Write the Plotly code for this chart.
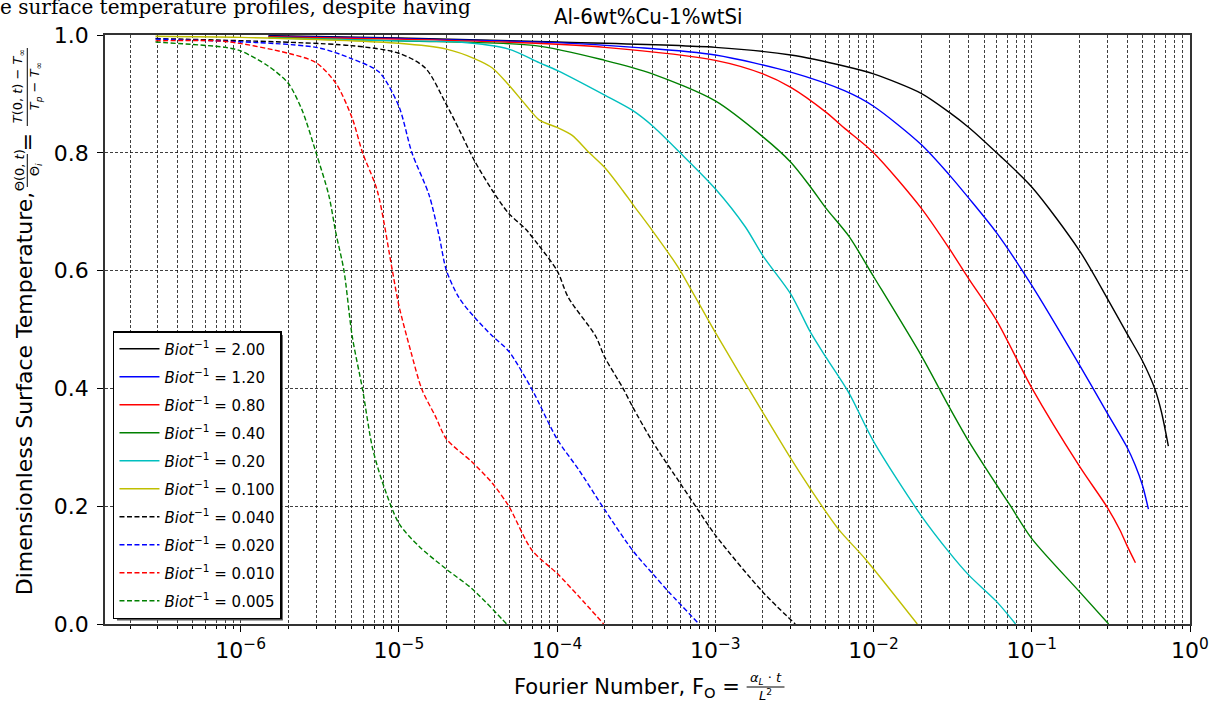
import plotly.graph_objects as go

# Fourier number / dimensionless surface temperature, one pair of lists per Biot^-1 case
fo_200 = [1.5e-6, 1e-5, 1e-4, 1e-3, 3e-3, 6.6e-3, 0.01, 0.02, 0.03, 0.04, 0.06, 0.1, 0.2, 0.3, 0.4, 0.5, 0.6, 0.66, 0.73]
th_200 = [0.999, 0.995, 0.988, 0.979, 0.966, 0.947, 0.934, 0.901, 0.869, 0.843, 0.800, 0.742, 0.634, 0.553, 0.493, 0.447, 0.399, 0.36, 0.302]

fo_120 = [1.5e-6, 1e-5, 1e-4, 3.1e-4, 1e-3, 3e-3, 6.6e-3, 0.01, 0.02, 0.03, 0.04, 0.06, 0.1, 0.2, 0.3, 0.4, 0.45, 0.5, 0.546]
th_120 = [0.998, 0.994, 0.987, 0.979, 0.966, 0.937, 0.905, 0.879, 0.814, 0.763, 0.723, 0.664, 0.575, 0.440, 0.358, 0.300, 0.270, 0.236, 0.195]

fo_080 = [1.5e-6, 1e-5, 7.3e-5, 2e-4, 1e-3, 2e-3, 3e-3, 5e-3, 6.6e-3, 0.01, 0.02, 0.03, 0.04, 0.06, 0.1, 0.2, 0.3, 0.36, 0.4, 0.452]
th_080 = [0.997, 0.993, 0.986, 0.979, 0.957, 0.934, 0.911, 0.869, 0.841, 0.800, 0.706, 0.638, 0.586, 0.515, 0.401, 0.268, 0.198, 0.160, 0.133, 0.104]

fo_040 = [1.5e-6, 1e-5, 7.3e-5, 2e-4, 4e-4, 1e-3, 2e-3, 3e-3, 4e-3, 5e-3, 7e-3, 0.01, 0.02, 0.03, 0.04, 0.06, 0.0736, 0.1, 0.2, 0.306]
th_040 = [0.996, 0.990, 0.982, 0.957, 0.934, 0.888, 0.827, 0.784, 0.742, 0.706, 0.658, 0.590, 0.456, 0.369, 0.310, 0.236, 0.200, 0.145, 0.055, 0.0]

fo_020 = [1.5e-6, 1e-5, 2.4e-5, 4.95e-5, 7.7e-5, 1e-4, 2e-4, 3e-4, 4e-4, 6e-4, 1e-3, 1.55e-3, 2e-3, 3e-3, 4e-3, 5e-3, 7e-3, 0.01, 0.02, 0.03, 0.04, 0.06, 0.079]
th_020 = [0.995, 0.990, 0.988, 0.976, 0.953, 0.940, 0.898, 0.872, 0.846, 0.800, 0.739, 0.674, 0.625, 0.560, 0.495, 0.453, 0.392, 0.310, 0.184, 0.122, 0.083, 0.038, 0.0]

fo_0100 = [2.9e-7, 1e-6, 1e-5, 2e-5, 3e-5, 3.9e-5, 4.95e-5, 6.3e-5, 7.7e-5, 1e-4, 1.24e-4, 1.6e-4, 2e-4, 2.6e-4, 3e-4, 4e-4, 5.3e-4, 6e-4, 1e-3, 2e-3, 3e-3, 4e-3, 6e-3, 8.9e-3, 0.0189]
th_0100 = [0.998, 0.996, 0.986, 0.976, 0.960, 0.944, 0.915, 0.882, 0.856, 0.843, 0.830, 0.800, 0.775, 0.736, 0.713, 0.668, 0.622, 0.600, 0.495, 0.359, 0.281, 0.229, 0.161, 0.110, 0.0]

fo_0040 = [2.9e-7, 5e-6, 1e-5, 1.47e-5, 1.97e-5, 2.4e-5, 3e-5, 3.9e-5, 4.95e-5, 6.3e-5, 7.7e-5, 1e-4, 1.18e-4, 1.75e-4, 2e-4, 2.6e-4, 3e-4, 4e-4, 6e-4, 7.5e-4, 1e-3, 2e-3, 3.2e-3]
th_0040 = [0.994, 0.982, 0.969, 0.944, 0.885, 0.840, 0.787, 0.736, 0.697, 0.671, 0.642, 0.600, 0.554, 0.489, 0.453, 0.401, 0.369, 0.310, 0.239, 0.200, 0.151, 0.054, 0.0]

fo_0020 = [2.9e-7, 3e-6, 5e-6, 7.5e-6, 1e-5, 1.21e-5, 1.55e-5, 1.8e-5, 2e-5, 2.4e-5, 3e-5, 3.9e-5, 4.95e-5, 6.95e-5, 1e-4, 1.37e-4, 2e-4, 3e-4, 4e-4, 5.1e-4, 7.9e-4]
th_0020 = [0.993, 0.979, 0.960, 0.937, 0.879, 0.800, 0.729, 0.658, 0.600, 0.554, 0.521, 0.489, 0.463, 0.398, 0.314, 0.262, 0.194, 0.125, 0.086, 0.054, 0.0]

fo_0010 = [2.9e-7, 8e-7, 2e-6, 3e-6, 4e-6, 5.07e-6, 5.9e-6, 7.3e-6, 9.1e-6, 1e-5, 1.19e-5, 1.4e-5, 1.7e-5, 2e-5, 2.9e-5, 3.9e-5, 4.95e-5, 6.95e-5, 1e-4, 1.37e-4, 1.97e-4]
th_0010 = [0.990, 0.989, 0.969, 0.953, 0.918, 0.859, 0.800, 0.736, 0.600, 0.541, 0.463, 0.398, 0.353, 0.314, 0.275, 0.239, 0.200, 0.125, 0.086, 0.047, 0.0]

fo_0005 = [2.9e-7, 8e-7, 1e-6, 1.5e-6, 2e-6, 2.45e-6, 3e-6, 3.6e-6, 4e-6, 4.5e-6, 5.07e-6, 5.9e-6, 6.8e-6, 7.85e-6, 1e-5, 1.34e-5, 2e-5, 2.9e-5, 4.5e-5, 4.8e-5]
th_0005 = [0.988, 0.979, 0.973, 0.947, 0.918, 0.872, 0.800, 0.729, 0.664, 0.600, 0.489, 0.398, 0.300, 0.242, 0.171, 0.132, 0.093, 0.060, 0.008, 0.0]

biot_labels = ["2.00", "1.20", "0.80", "0.40", "0.20", "0.100", "0.040", "0.020", "0.010", "0.005"]
series_fo = [fo_200, fo_120, fo_080, fo_040, fo_020, fo_0100, fo_0040, fo_0020, fo_0010, fo_0005]
series_th = [th_200, th_120, th_080, th_040, th_020, th_0100, th_0040, th_0020, th_0010, th_0005]
colors = ["#000000", "#0000ff", "#ff0000", "#008000", "#00bfbf", "#bfbf00",
          "#000000", "#0000ff", "#ff0000", "#008000"]
dashes = ["solid"] * 6 + ["5px,2.5px"] * 4

x_tick_vals = [1e-6, 1e-5, 1e-4, 1e-3, 1e-2, 1e-1, 1e0]
x_tick_text = ["10<sup>−6</sup>", "10<sup>−5</sup>", "10<sup>−4</sup>", "10<sup>−3</sup>",
               "10<sup>−2</sup>", "10<sup>−1</sup>", "10<sup>0</sup>"]
y_tick_vals = [0.0, 0.2, 0.4, 0.6, 0.8, 1.0]

# plot-area geometry in pixels (figure 1221 x 706)
W, H = 1221, 706
L, R, T, B = 105, 1194, 35, 624


def px(xp):
    return (xp - L) / (R - L)


def py(yp):
    return (B - yp) / (B - T)


FONT = "DejaVu Sans"
grid_color = "rgba(0,0,0,0.75)"

fig = go.Figure()
for i, lab in enumerate(biot_labels):
    fig.add_trace(go.Scatter(
        x=series_fo[i], y=series_th[i], mode="lines",
        name="<i>Biot</i><sup>−1</sup> = " + lab,
        legendgroup=str(i),
        line=dict(color=colors[i], width=1.4, dash=dashes[i], shape="spline", smoothing=0.8),
    ))

minor_vals = [k * 10.0 ** n for n in range(-7, 0) for k in range(2, 10)]

axis_common = dict(
    showline=True, linecolor="#333333", linewidth=1.5, mirror=True,
    ticks="outside", ticklen=6, tickcolor="#000000", tickwidth=1,
    showgrid=True, gridcolor=grid_color, gridwidth=0.7, griddash="3px,2px",
    zeroline=False, tickfont=dict(family=FONT, size=22, color="#000000"),
)

fig.update_xaxes(
    type="log", range=[-6.857, 0], tickmode="array",
    tickvals=x_tick_vals, ticktext=x_tick_text,
    minor=dict(tickmode="array", tickvals=minor_vals, ticks="outside", ticklen=3,
               tickcolor="#000000", showgrid=True, gridcolor=grid_color,
               gridwidth=0.7, griddash="3px,2px"),
    **axis_common,
)
fig.update_yaxes(
    range=[0, 1], tickmode="array", tickvals=y_tick_vals, tickformat=".1f",
    ticklabelstandoff=4,
    **axis_common,
)

ann = []
# header line of the surrounding document, clipped by the top edge
ann.append(dict(text="e surface temperature profiles, despite having", x=px(-2), y=py(7.5),
                xref="paper", yref="paper", xanchor="left", yanchor="middle", showarrow=False,
                font=dict(family="DejaVu Serif", size=20, color="#000000")))
# title
ann.append(dict(text="Al-6wt%Cu-1%wtSi", x=px(650), y=py(17), xref="paper", yref="paper",
                xanchor="center", yanchor="middle", showarrow=False,
                font=dict(family="DejaVu Sans Condensed, DejaVu Sans", size=22, color="#000000")))

# y label with stacked fractions
ann.append(dict(text="Dimensionless Surface Temperature,", textangle=-90, x=px(24), y=py(393),
                xref="paper", yref="paper", xanchor="center", yanchor="middle", showarrow=False,
                font=dict(family=FONT, size=22, color="#000000")))
frac_font = dict(family=FONT, size=13, color="#000000")
ann.append(dict(text="Θ(0, <i>t</i>)", textangle=-90, x=px(19), y=py(170), xref="paper", yref="paper",
                xanchor="center", yanchor="middle", showarrow=False, font=frac_font))
ann.append(dict(text="Θ<sub><i>i</i></sub>", textangle=-90, x=px(35), y=py(170), xref="paper", yref="paper",
                xanchor="center", yanchor="middle", showarrow=False, font=frac_font))
ann.append(dict(text="=", textangle=-90, x=px(27), y=py(142), xref="paper", yref="paper",
                xanchor="center", yanchor="middle", showarrow=False,
                font=dict(family=FONT, size=22, color="#000000")))
ann.append(dict(text="<i>T</i>(0, <i>t</i>) − <i>T</i><sub>∞</sub>", textangle=-90, x=px(18), y=py(86),
                xref="paper", yref="paper", xanchor="center", yanchor="middle", showarrow=False,
                font=frac_font))
ann.append(dict(text="<i>T<sub>p</sub></i> − <i>T</i><sub>∞</sub>", textangle=-90, x=px(35), y=py(86),
                xref="paper", yref="paper", xanchor="center", yanchor="middle", showarrow=False,
                font=frac_font))

# x label with stacked fraction
ann.append(dict(text="Fourier Number, F<sub>O</sub> =", x=px(744), y=py(688), xref="paper", yref="paper",
                xanchor="right", yanchor="middle", showarrow=False,
                font=dict(family=FONT, size=21, color="#000000")))
ann.append(dict(text="<i>α<sub>L</sub></i> · <i>t</i>", x=px(768), y=py(678), xref="paper", yref="paper",
                xanchor="center", yanchor="middle", showarrow=False, font=frac_font))
ann.append(dict(text="<i>L</i><sup>2</sup>", x=px(768), y=py(695), xref="paper", yref="paper",
                xanchor="center", yanchor="middle", showarrow=False, font=frac_font))

shapes = [
    # legend drop shadow
    dict(type="rect", xref="paper", yref="paper", x0=px(117), x1=px(283.5), y0=py(620.5), y1=py(335),
         fillcolor="#555555", line=dict(width=0), layer="above"),
    # fraction bars
    dict(type="line", xref="paper", yref="paper", x0=px(27), x1=px(27), y0=py(154), y1=py(187),
         line=dict(color="#000000", width=1)),
    dict(type="line", xref="paper", yref="paper", x0=px(27), x1=px(27), y0=py(48), y1=py(126),
         line=dict(color="#000000", width=1)),
    dict(type="line", xref="paper", yref="paper", x0=px(749), x1=px(787), y0=py(687), y1=py(687),
         line=dict(color="#000000", width=1)),
]

fig.update_layout(
    width=W, height=H,
    margin=dict(l=L, r=W - R, t=T, b=H - B, pad=0),
    paper_bgcolor="#ffffff", plot_bgcolor="#ffffff",
    showlegend=True,
    legend=dict(x=px(113), y=py(331), xanchor="left", yanchor="top",
                bgcolor="#ffffff", bordercolor="#000000", borderwidth=1.5,
                font=dict(family=FONT, size=15, color="#000000"),
                tracegroupgap=5.5, itemwidth=40),
    annotations=ann,
    shapes=shapes,
)

fig.write_html("out.html")
